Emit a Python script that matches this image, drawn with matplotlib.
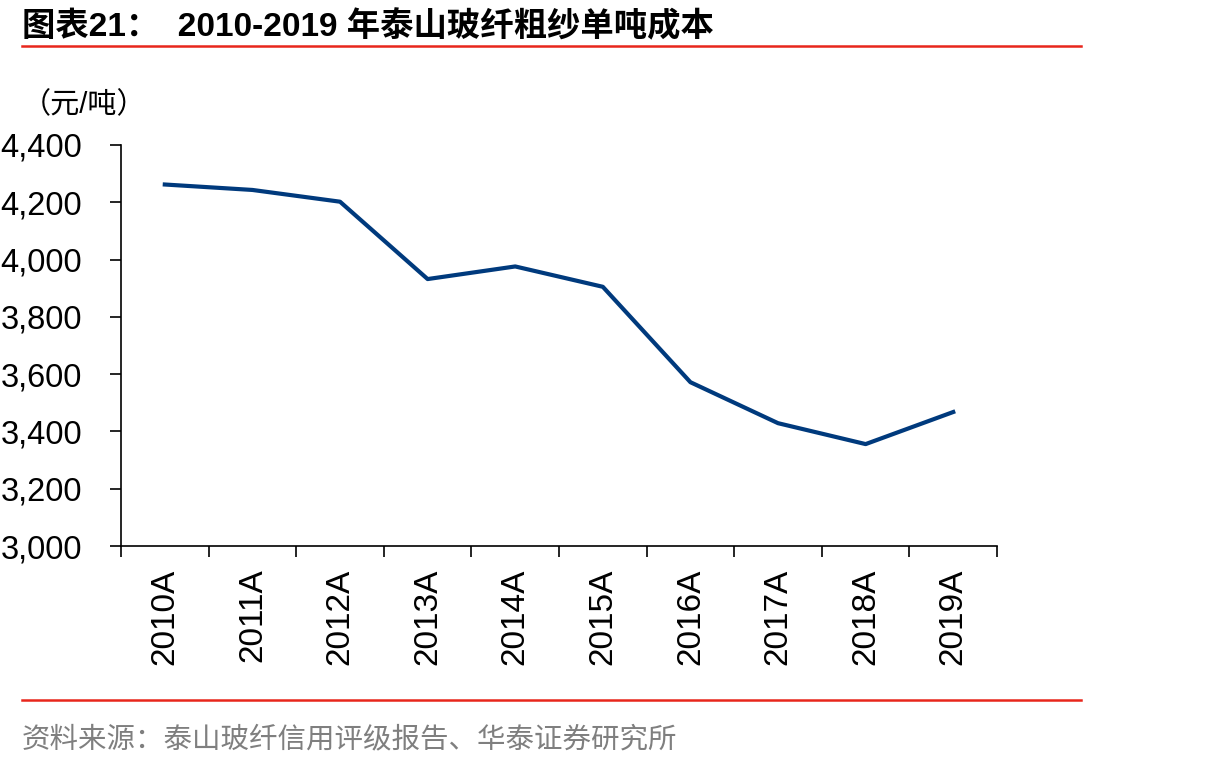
import numpy as np
import matplotlib
matplotlib.use('Agg')
import matplotlib.pyplot as plt
from matplotlib.ticker import FuncFormatter, FixedLocator

plt.rcParams['font.family'] = ['Liberation Sans', 'Noto Sans CJK SC']

years = ['2010A', '2011A', '2012A', '2013A', '2014A', '2015A', '2016A', '2017A', '2018A', '2019A']
cost = [4262, 4243, 4202, 3932, 3976, 3905, 3572, 3429, 3356, 3468]

fig = plt.figure(figsize=(12.1, 7.67), dpi=100)
ax = fig.add_axes([0.1, 0.288, 0.724, 0.523])

x = np.arange(len(years))
ax.plot(x, cost, color='#003a7d', lw=3, solid_joinstyle='round')

ax.set_xlim(-0.5, len(years) - 0.5)
ax.set_ylim(3000, 4400)
ax.set_yticks(np.arange(3000, 4401, 200))
ax.yaxis.set_major_formatter(FuncFormatter(lambda v, p: f'{int(v):,}'))

ax.set_xticks(x)
ax.set_xticklabels(years, rotation=90, fontsize=24)
ax.xaxis.set_minor_locator(FixedLocator(np.arange(-0.5, len(years), 1)))
ax.tick_params(axis='x', which='major', length=0, pad=16)
ax.tick_params(axis='x', which='minor', length=8, width=1.2, direction='out')
ax.tick_params(axis='y', labelsize=23.5, length=8, width=1.2, direction='out', pad=20)

for s in ['top', 'right']:
    ax.spines[s].set_visible(False)
for s in ['left', 'bottom']:
    ax.spines[s].set_linewidth(1.2)

# title and rules
fig.text(0.018, 0.953, '图表21：  2010-2019 年泰山玻纤粗纱单吨成本', fontsize=24,
         fontweight='bold', ha='left', va='baseline')
fig.add_artist(plt.Line2D([0.018, 0.893], [0.940, 0.940], color='#e8261c', lw=1.8))
fig.add_artist(plt.Line2D([0.018, 0.893], [0.087, 0.087], color='#e8261c', lw=1.8))
fig.text(0.018, 0.852, '（元/吨）', fontsize=21, ha='left', va='baseline')
fig.text(0.018, 0.025, '资料来源：泰山玻纤信用评级报告、华泰证券研究所', fontsize=20.5,
         color='#7f7f7f', ha='left', va='baseline')

plt.savefig('out.png', dpi=100)
plt.close()
